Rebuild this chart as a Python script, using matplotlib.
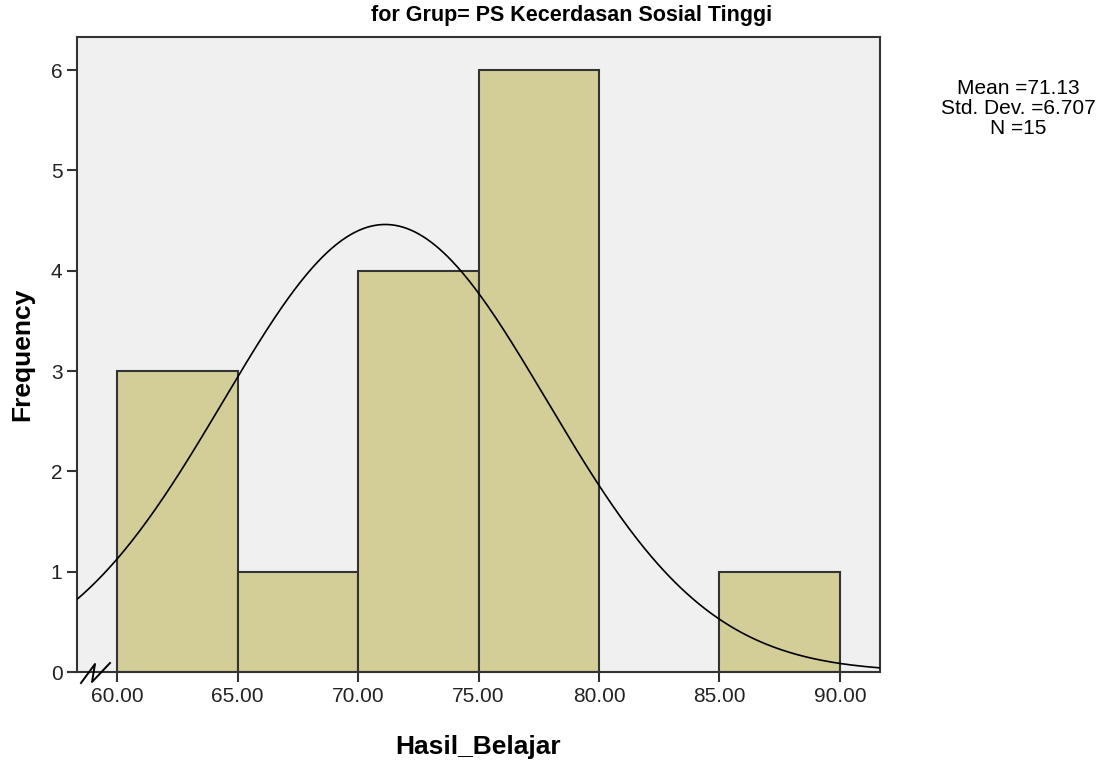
import numpy as np
import matplotlib
matplotlib.use("Agg")
import matplotlib.pyplot as plt

plt.rcParams['font.family'] = ['Liberation Sans', 'DejaVu Sans']

bin_edges = [60, 65, 70, 75, 80, 85, 90]
counts = [3, 1, 4, 6, 0, 1]
mean = 71.13
std = 6.707
n = 15
x_ticks = [60, 65, 70, 75, 80, 85, 90]
y_ticks = [0, 1, 2, 3, 4, 5, 6]

fig = plt.figure(figsize=(11.10, 7.66), dpi=100)
ax = fig.add_axes([77/1110, 1-672/766, (880-77)/1110, (672-37)/766])
ax.set_facecolor('#f0f0f0')

edge = '#333333'
for i, c in enumerate(counts):
    if c > 0:
        ax.bar(bin_edges[i], c, width=bin_edges[i+1]-bin_edges[i], align='edge',
               color='#d3ce98', edgecolor=edge, linewidth=1.5, zorder=2)

xs = np.linspace(58.34, 91.66, 400)
binw = bin_edges[1] - bin_edges[0]
ys = n * binw * np.exp(-0.5*((xs-mean)/std)**2) / (std*np.sqrt(2*np.pi))
ax.plot(xs, ys, color='black', linewidth=1.2, zorder=3)

ax.set_xlim(58.34, 91.66)
ax.set_ylim(0, 6.33)
ax.set_xticks(x_ticks)
ax.set_xticklabels([f"{v:.2f}" for v in x_ticks])
ax.set_yticks(y_ticks)
ax.tick_params(axis='both', labelsize=15, length=7, width=1.5, color='#333333', labelcolor='#222222')
for s in ax.spines.values():
    s.set_color('#333333')
    s.set_linewidth(1.5)

ax.set_xlabel('Hasil_Belajar', fontsize=19, fontweight='bold', labelpad=21)
ax.set_ylabel('Frequency', fontsize=19, fontweight='bold', labelpad=12)

fig.text(572/1110, 1-15/766, 'for Grup= PS Kecerdasan Sosial Tinggi', fontsize=15.5,
         fontweight='bold', ha='center', va='center')
fig.text(1018/1110, 1-79/766, f'Mean ={mean:.2f}\nStd. Dev. ={std:.3f}\nN ={n}',
         fontsize=15, ha='center', va='top', linespacing=1.08)

# axis break mark
bx = [81, 95, 92, 110]
by = [683, 664, 682, 663]
fig.add_artist(plt.Line2D([x/1110 for x in bx], [1-y/766 for y in by],
                          transform=fig.transFigure, color='black', linewidth=1.4))

fig.savefig('out.png', dpi=100)
